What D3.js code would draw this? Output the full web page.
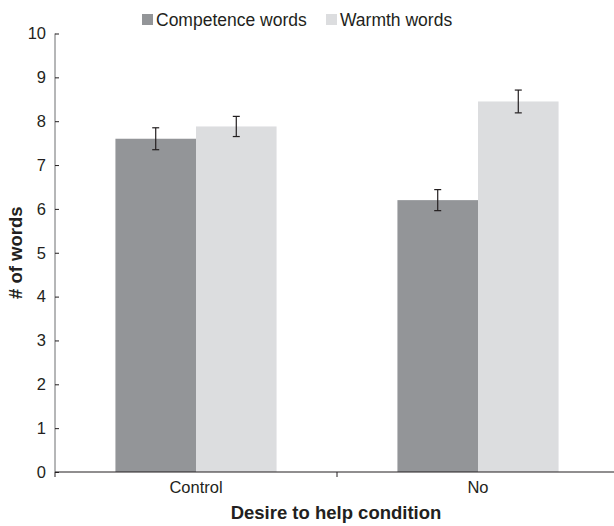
<!DOCTYPE html>
<html>
<head>
<meta charset="utf-8">
<script src="https://cdn.jsdelivr.net/npm/d3@7"></script>
<style>
  body { margin: 0; background: #fff; }
  text { font-family: "Liberation Sans", Arial, sans-serif; fill: #231f20; }
</style>
</head>
<body>
<div id="chart"></div>
<script>
// values
var categories = ["Control", "No"];
var seriesNames = ["Competence words", "Warmth words"];
var competence = [7.6, 6.2];
var warmth = [7.88, 8.45];
var competenceErr = [0.25, 0.24];
var warmthErr = [0.23, 0.26];
var yTicks = [0, 1, 2, 3, 4, 5, 6, 7, 8, 9, 10];
var colors = ["#939598", "#dcdddf"];

var svgWidth = 614;
var svgHeight = 526;

var rows = categories.map(function(c, i) {
  return [
    { cat: c, series: seriesNames[0], value: competence[i], err: competenceErr[i] },
    { cat: c, series: seriesNames[1], value: warmth[i], err: warmthErr[i] }
  ];
});

var svg = d3.select("#chart")
  .append("svg")
    .attr("width", svgWidth)
    .attr("height", svgHeight);

var x0 = d3.scaleBand()
  .domain(categories)
  .range([55, 619])
  .paddingInner(0)
  .paddingOuter(0);

var x1 = d3.scaleBand()
  .domain(seriesNames)
  .range([0, x0.bandwidth()])
  .paddingInner(0)
  .paddingOuter(0.75);

var y = d3.scaleLinear()
  .domain([0, 10])
  .range([472, 33.5]);

var color = d3.scaleOrdinal().domain(seriesNames).range(colors);

// bars
var groups = svg.selectAll("g.cat")
  .data(rows)
  .enter()
  .append("g")
    .attr("class", "cat")
    .attr("transform", function(d) { return "translate(" + x0(d[0].cat) + ",0)"; });

groups.selectAll("rect")
  .data(function(d) { return d; })
  .enter()
  .append("rect")
    .attr("x", function(d) { return x1(d.series); })
    .attr("y", function(d) { return y(d.value); })
    .attr("width", x1.bandwidth())
    .attr("height", function(d) { return y(0) - y(d.value); })
    .attr("fill", function(d) { return color(d.series); });

// error bars
var eb = groups.selectAll("g.err")
  .data(function(d) { return d; })
  .enter()
  .append("g")
    .attr("class", "err")
    .attr("stroke", "#231f20")
    .attr("stroke-width", 1.2);

eb.append("line")
  .attr("x1", function(d) { return x1(d.series) + x1.bandwidth() / 2; })
  .attr("x2", function(d) { return x1(d.series) + x1.bandwidth() / 2; })
  .attr("y1", function(d) { return y(d.value + d.err); })
  .attr("y2", function(d) { return y(d.value - d.err); });

[1, -1].forEach(function(s) {
  eb.append("line")
    .attr("x1", function(d) { return x1(d.series) + x1.bandwidth() / 2 - 3.5; })
    .attr("x2", function(d) { return x1(d.series) + x1.bandwidth() / 2 + 3.5; })
    .attr("y1", function(d) { return y(d.value + s * d.err); })
    .attr("y2", function(d) { return y(d.value + s * d.err); });
});

// y axis
var yAxis = svg.append("g")
  .attr("transform", "translate(55,0)")
  .call(d3.axisRight(y).tickValues(yTicks).tickSize(4).tickFormat(d3.format("d")));
yAxis.select(".domain").attr("stroke", "#6d6e71").attr("d", "M0," + y(10) + "V" + y(0));
yAxis.selectAll(".tick line").attr("stroke", "#231f20");
yAxis.selectAll(".tick text")
  .attr("x", -9)
  .attr("text-anchor", "end")
  .style("font-size", "16.5px")
  .attr("fill", "#231f20");

// x axis
var xAxis = svg.append("g")
  .attr("transform", "translate(0," + y(0) + ")")
  .call(d3.axisBottom(x0).tickSize(0).tickPadding(9));
xAxis.select(".domain").attr("stroke", "#231f20").attr("stroke-width", 1.2).attr("d", "M55,0H614");
xAxis.selectAll(".tick text").style("font-size", "16.5px").attr("fill", "#231f20");

// boundary ticks between categories
xAxis.selectAll("line.bound")
  .data(categories)
  .enter()
  .append("line")
    .attr("class", "bound")
    .attr("x1", function(d) { return x0(d); })
    .attr("x2", function(d) { return x0(d); })
    .attr("y1", 0)
    .attr("y2", 5)
    .attr("stroke", "#231f20");

// axis titles
svg.append("text")
  .attr("x", 336)
  .attr("y", 519)
  .attr("text-anchor", "middle")
  .style("font-size", "18.5px")
  .style("font-weight", "bold")
  .text("Desire to help condition");

svg.append("text")
  .attr("transform", "translate(22," + y(5) + ") rotate(-90)")
  .attr("text-anchor", "middle")
  .style("font-size", "18.5px")
  .style("font-weight", "bold")
  .text("# of words");

// legend
var legendX = [142, 326];
var legend = svg.selectAll("g.legend")
  .data(seriesNames)
  .enter()
  .append("g")
    .attr("class", "legend")
    .attr("transform", function(d, i) { return "translate(" + legendX[i] + ",14)"; });

legend.append("rect")
  .attr("width", 11)
  .attr("height", 11)
  .attr("fill", function(d) { return color(d); });

legend.append("text")
  .attr("x", 14)
  .attr("y", 11.5)
  .style("font-size", "17.5px")
  .text(function(d) { return d; });
</script>
</body>
</html>
